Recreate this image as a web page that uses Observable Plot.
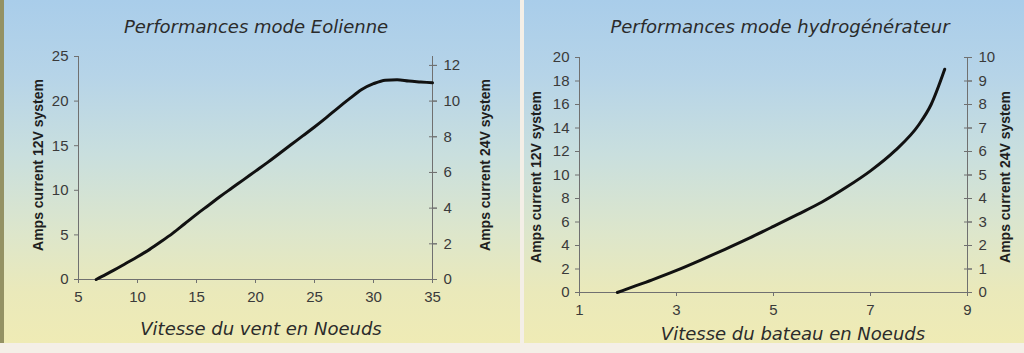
<!DOCTYPE html>
<html>
<head>
<meta charset="utf-8">
<script src="https://cdn.jsdelivr.net/npm/d3@7"></script>
<script src="https://cdn.jsdelivr.net/npm/@observablehq/plot@0.6"></script>
<style>
  html, body { margin: 0; padding: 0; }
  body { width: 1024px; height: 353px; position: relative; overflow: hidden; background: #f4efe7; }
  .strip { position: absolute; left: 0; top: 0; width: 4px; height: 343px; background: #949264; }
  .panel { position: absolute; top: 0; height: 343px;
    background: linear-gradient(to bottom, #a9cdea 0%, #b6d4e8 22%, #c9dfde 45%, #dde6cb 68%, #eae9ba 85%, #efebb5 100%); }
  .panel svg { position: absolute; left: 0; top: 0; }
  .panel svg text { font-family: "Liberation Sans", Arial, sans-serif !important; font-size: 15px !important; }
  .title, .xlabel { position: absolute; font-family: "DejaVu Sans", Verdana, sans-serif; font-style: italic;
    color: #2b2b2b; white-space: nowrap; line-height: 1; transform: translateX(-50%); }
  .title { font-size: 18px; }
  .xlabel { font-size: 18px; }
  .ylabel { position: absolute; font-family: "Liberation Sans", Arial, sans-serif; font-weight: bold;
    font-size: 14px; color: #1e1e1e; white-space: nowrap; line-height: 1;
    transform: translate(-50%, -50%) rotate(-90deg); }
</style>
</head>
<body>
<div class="strip"></div>
<div class="panel" id="left" style="left:4px; width:516px;"></div>
<div class="panel" id="right" style="left:524px; width:500px;"></div>

<div class="title" style="left:256px; top:18px;">Performances mode Eolienne</div>
<div class="title" style="left:780px; top:18px;">Performances mode hydrogénérateur</div>
<div class="xlabel" style="left:261px; top:320px;">Vitesse du vent en Noeuds</div>
<div class="xlabel" style="left:793px; top:325px;">Vitesse du bateau en Noeuds</div>
<div class="ylabel" style="left:38px; top:165px;">Amps current 12V system</div>
<div class="ylabel" style="left:485px; top:165px;">Amps current 24V system</div>
<div class="ylabel" style="left:536px; top:177px;">Amps current 12V system</div>
<div class="ylabel" style="left:1005px; top:177px;">Amps current 24V system</div>

<script>
// ---- Wind mode (Eolienne) ----
const windSpeed = [6.5, 7, 8, 9, 10, 11, 12, 13, 14, 15, 16, 17, 18, 19, 20, 21, 22, 23, 24, 25, 26, 27, 28, 29, 30, 31, 32, 33, 34, 35];
const windAmps12 = [0, 0.35, 1.05, 1.8, 2.55, 3.35, 4.25, 5.2, 6.25, 7.3, 8.3, 9.3, 10.25, 11.2, 12.15, 13.1, 14.1, 15.1, 16.1, 17.1, 18.15, 19.25, 20.3, 21.3, 21.95, 22.35, 22.4, 22.25, 22.15, 22.05];
const windXTicks = [5, 10, 15, 20, 25, 30, 35];
const windY12Ticks = [0, 5, 10, 15, 20, 25];
const windY24Ticks = [0, 2, 4, 6, 8, 10, 12];
const windXDomain = [5, 35];
const windYDomain = [0, 25];

// ---- Hydro mode (hydrogénérateur) ----
const boatSpeed = [1.78, 2, 2.5, 3, 3.5, 4, 4.5, 5, 5.5, 6, 6.5, 7, 7.5, 8, 8.25, 8.53];
const boatAmps12 = [0, 0.33, 1.08, 1.88, 2.76, 3.68, 4.63, 5.63, 6.65, 7.7, 8.95, 10.35, 12.05, 14.3, 16.0, 19.0];
const boatXTicks = [1, 3, 5, 7, 9];
const boatY12Ticks = [0, 2, 4, 6, 8, 10, 12, 14, 16, 18, 20];
const boatY24Ticks = [0, 1, 2, 3, 4, 5, 6, 7, 8, 9, 10];
const boatXDomain = [1, 9];
const boatYDomain = [0, 20];

const axisColor = "#707070";
const textColor = "#3a3a3a";
const tickFont = 15;

function chart({width, height, margins, xDomain, yDomain, xTicks, y12Ticks, y24Ticks, xs, ys}) {
  const data = xs.map((x, i) => ({x, y: ys[i]}));
  const rightTicks = y24Ticks.map(d => d * 2);
  return Plot.plot({
    width, height,
    marginLeft: margins[0], marginRight: margins[1], marginTop: margins[2], marginBottom: margins[3],
    style: {background: "transparent", fontFamily: "'Liberation Sans', Arial, sans-serif", fontSize: "15px", color: textColor, overflow: "visible"},
    x: {domain: xDomain},
    y: {domain: yDomain},
    marks: [
      Plot.ruleY([yDomain[0]], {stroke: axisColor}),
      Plot.ruleX([xDomain[0]], {stroke: axisColor}),
      Plot.ruleX([xDomain[1]], {stroke: axisColor}),
      Plot.axisX({ticks: xTicks, tickSize: 4, tickPadding: 8, fontSize: tickFont, stroke: axisColor, fill: textColor, label: null}),
      Plot.axisY({anchor: "left", ticks: y12Ticks, tickSize: 4, tickPadding: 6, fontSize: tickFont, stroke: axisColor, fill: textColor, label: null}),
      Plot.axisY({anchor: "right", ticks: rightTicks, tickSize: 8, dx: -4, tickFormat: () => "", stroke: axisColor, label: null}),
      Plot.axisY({anchor: "right", ticks: rightTicks, tickFormat: d => d / 2, tickSize: 4, tickPadding: 7, fontSize: tickFont, stroke: axisColor, fill: textColor, label: null}),
      Plot.line(data, {x: "x", y: "y", curve: "monotone-x", stroke: "#111", strokeWidth: 3})
    ]
  });
}

document.getElementById("left").appendChild(chart({
  width: 516, height: 343, margins: [74, 88, 56, 64],
  xDomain: windXDomain, yDomain: windYDomain, xTicks: windXTicks,
  y12Ticks: windY12Ticks, y24Ticks: windY24Ticks, xs: windSpeed, ys: windAmps12
}));

document.getElementById("right").appendChild(chart({
  width: 500, height: 343, margins: [55, 57, 57, 51],
  xDomain: boatXDomain, yDomain: boatYDomain, xTicks: boatXTicks,
  y12Ticks: boatY12Ticks, y24Ticks: boatY24Ticks, xs: boatSpeed, ys: boatAmps12
}));
</script>
</body>
</html>
